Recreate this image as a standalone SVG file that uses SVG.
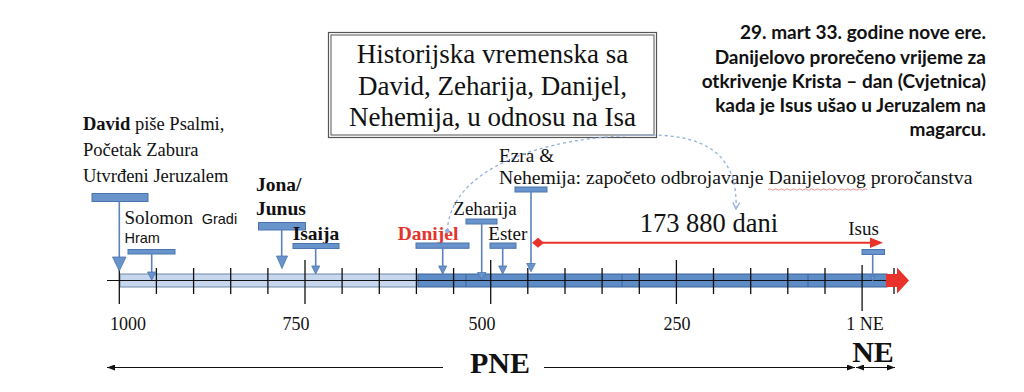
<svg xmlns="http://www.w3.org/2000/svg" width="1024" height="392" viewBox="0 0 1024 392">
<defs>
<style>
.t{font-family:"Liberation Serif","Times New Roman",serif;fill:#111}
.b{font-weight:bold}
.s{font-family:"Liberation Sans",Arial,sans-serif;fill:#111}
.c{font-family:Lato,"Liberation Sans",sans-serif;font-weight:bold;fill:#111;font-size:19px;text-anchor:end}
.mk{fill:#6993cb;stroke:#4a76b0;stroke-width:1}
.stem{stroke:#5a83bb;stroke-width:1.6}
.tri{fill:#6993cb;stroke:#4a76b0;stroke-width:0.8}
.tk{stroke:#111;stroke-width:1.3}
.dash{fill:none;stroke:#8fb2de;stroke-width:1.3;stroke-dasharray:3 3}
.ax{stroke:#111;stroke-width:1}
</style>
<marker id="arr" viewBox="0 0 8 6" refX="8" refY="3" markerWidth="8" markerHeight="6" markerUnits="userSpaceOnUse" orient="auto-start-reverse">
<path d="M0,0 L8,3 L0,6 z" fill="#111"/>
</marker>
<marker id="dh" viewBox="0 0 8 8" refX="7" refY="4" markerWidth="8" markerHeight="8" markerUnits="userSpaceOnUse" orient="auto">
<path d="M0.5,0.5 L7,4 L0.5,7.5" fill="none" stroke="#8fb2de" stroke-width="1.3"/>
</marker>
</defs>
<rect width="1024" height="392" fill="#fff"/>

<g id="timeline">
<rect x="120" y="274" width="297" height="13" fill="#c6d7ed" stroke="#6e87a8" stroke-width="1"/>
<rect x="418" y="274" width="469" height="13" fill="#5e8cc6" stroke="#3d6296" stroke-width="1"/>
<path d="M466,274V287M622,274V287M808,274V287" stroke="#3d6296" stroke-width="1"/>
<line class="ax" x1="107" y1="280.5" x2="887" y2="280.5"/>
<path class="tk" d="M156.4,268V294M193.6,268V294M230.7,268V294M267.9,268V294M342.1,268V294M379.3,268V294M416.4,268V294M453.6,268V294M527.8,268V294M565,268V294M602.1,268V294M639.3,268V294M713.5,268V294M750.7,268V294M787.8,268V294M825,268V294M894,268V294"/>
<path class="tk" d="M119.3,260V304M305,260V304M490.7,260V304M676.4,260V304M862.1,265V311"/>
<polygon points="886,274 897,274 897,267.5 909,280.5 897,293.5 897,287 886,287" fill="#e8322a"/>
<g class="t" font-size="18" text-anchor="middle">
<text x="128" y="330">1000</text>
<text x="296" y="330">750</text>
<text x="482" y="330">500</text>
<text x="677" y="330">250</text>
<text x="865" y="330">1 NE</text>
</g>
<text class="t b" x="500" y="373" font-size="30" text-anchor="middle">PNE</text>
<text class="t b" x="873" y="362" font-size="30" text-anchor="middle">NE</text>
</g>

<g id="title">
<rect x="328.5" y="32.5" width="328" height="105" fill="#fff" stroke="#555" stroke-width="1.2"/>
<rect x="331" y="35" width="323" height="100" fill="none" stroke="#555" stroke-width="1"/>
<g class="t" font-size="27" text-anchor="middle">
<text x="492.5" y="63">Historijska vremenska sa</text>
<text x="492.5" y="95">David, Zeharija, Danijel,</text>
<text x="492.5" y="126">Nehemija, u odnosu na Isa</text>
</g>
</g>

<g id="note">
<text class="c" x="986" y="39.3">29. mart 33. godine nove ere.</text>
<text class="c" x="986" y="63.5">Danijelovo prorečeno vrijeme za</text>
<text class="c" x="986" y="87.7">otkrivenje Krista – dan (Cvjetnica)</text>
<text class="c" x="986" y="111.9">kada je Isus ušao u Jeruzalem na</text>
<text class="c" x="986" y="136.1">magarcu.</text>
</g>

<g id="david">
<text class="t" x="83" y="129.5" font-size="18.5"><tspan class="b">David</tspan> piše Psalmi,</text>
<text class="t" x="83" y="156" font-size="18.5">Početak Zabura</text>
<text class="t" x="83" y="182" font-size="18.5">Utvrđeni Jeruzalem</text>
<rect class="mk" x="92" y="193.5" width="56" height="8"/>
<line class="stem" x1="119.3" y1="201.5" x2="119.3" y2="257"/>
<polygon class="tri" points="112.5,257 126,257 119.3,271"/>
</g>

<g id="solomon">
<text class="t" x="124.5" y="223.5" font-size="19">Solomon</text>
<text class="s" x="201.7" y="223.5" font-size="14.5">Gradi</text>
<text class="s" x="124.5" y="243" font-size="14.5">Hram</text>
<rect class="mk" x="128" y="249.5" width="47" height="4.5"/>
<line class="stem" x1="151.7" y1="254" x2="151.7" y2="272"/>
<polygon class="tri" points="147.5,272 156,272 151.7,280"/>
</g>

<g id="jona">
<text class="t b" x="256" y="190.5" font-size="19.5">Jona/</text>
<text class="t b" x="256" y="215" font-size="19.5">Junus</text>
<rect class="mk" x="258.5" y="222.5" width="47" height="7.5"/>
<line class="stem" x1="281.7" y1="230" x2="281.7" y2="256"/>
<polygon class="tri" points="276.5,256 287.5,256 282,268.5"/>
</g>

<g id="isaija">
<text class="t b" x="292.7" y="239.5" font-size="19.5">Isaija</text>
<rect class="mk" x="293" y="243.5" width="46" height="5"/>
<line class="stem" x1="315.7" y1="248.5" x2="315.7" y2="266"/>
<polygon class="tri" points="311.7,266 319.7,266 315.7,274"/>
</g>

<g id="danijel">
<text class="t b" x="397.7" y="240" font-size="19.5" style="fill:#e3342b">Danijel</text>
<rect class="mk" x="416" y="243" width="53" height="5.3"/>
<line class="stem" x1="442.7" y1="248.3" x2="442.7" y2="266"/>
<polygon class="tri" points="438.7,266 446.7,266 442.7,274"/>
</g>

<g id="zeharija">
<text class="t" x="453.3" y="215" font-size="19">Zeharija</text>
<rect class="mk" x="466" y="219" width="31" height="5"/>
<line class="stem" x1="481.7" y1="224" x2="481.7" y2="272.5"/>
<polygon class="tri" points="477.5,272.5 486,272.5 481.7,280"/>
</g>

<g id="ester">
<text class="t" x="488.3" y="240" font-size="19">Ester</text>
<rect class="mk" x="490" y="243" width="26" height="5.3"/>
<line class="stem" x1="502.7" y1="248.3" x2="502.7" y2="266"/>
<polygon class="tri" points="498.7,266 506.7,266 502.7,274"/>
</g>

<g id="ezra">
<text class="t" x="499" y="162" font-size="19.3">Ezra &amp;</text>
<text class="t" x="499" y="184" font-size="19.7">Nehemija: započeto odbrojavanje Danijelovog proročanstva</text>
<path d="M768,189.5 q1.5,-1.5 3,0 t3,0 t3,0 t3,0 t3,0 t3,0 t3,0 t3,0 t3,0 t3,0 t3,0 t3,0 t3,0 t3,0 t3,0 t3,0 t3,0 t3,0 t3,0 t3,0 t3,0 t3,0 t3,0 t3,0 t3,0 t3,0 t3,0 t3,0 t3,0 t3,0 t3,0 t3,0 t3,0" fill="none" stroke="#e57373" stroke-width="0.8"/>
<rect class="mk" x="515" y="187" width="32" height="5"/>
<line class="stem" x1="531" y1="192" x2="531" y2="263.5"/>
<polygon class="tri" points="526.7,263.5 535.3,263.5 531,271.7"/>
</g>

<g id="isus">
<text class="t" x="848.3" y="235" font-size="19">Isus</text>
<rect class="mk" x="862" y="249.5" width="22.5" height="5"/>
<line class="stem" x1="872.7" y1="254.5" x2="872.7" y2="276"/>
<polygon class="tri" points="870,276 875.4,276 872.7,281"/>
</g>

<g id="span173880">
<text class="t" x="778" y="231.7" font-size="26.5" text-anchor="end">173 880 dani</text>
</g>

<g id="connectors">
<circle cx="447.3" cy="231" r="2.3" fill="#8fb2de"/>
<path class="dash" d="M447.3,231 C450,170 540,135 650,135 C712,135 738,160 736,209" marker-end="url(#dh)"/>
<line x1="538" y1="242.7" x2="880" y2="242.7" stroke="#e8322a" stroke-width="2"/>
<polygon points="532,242.7 538,237.7 544,242.7 538,247.7" fill="#e8322a"/>
<polygon points="870,237.5 883,242.7 870,247.9" fill="#e8322a"/>
<line class="ax" x1="443" y1="367.5" x2="107" y2="367.5" marker-end="url(#arr)"/>
<line class="ax" x1="544" y1="367.5" x2="855" y2="367.5" marker-end="url(#arr)"/>
<line class="ax" x1="856" y1="367.5" x2="895" y2="367.5" marker-start="url(#arr)" marker-end="url(#arr)"/>
</g>
</svg>
